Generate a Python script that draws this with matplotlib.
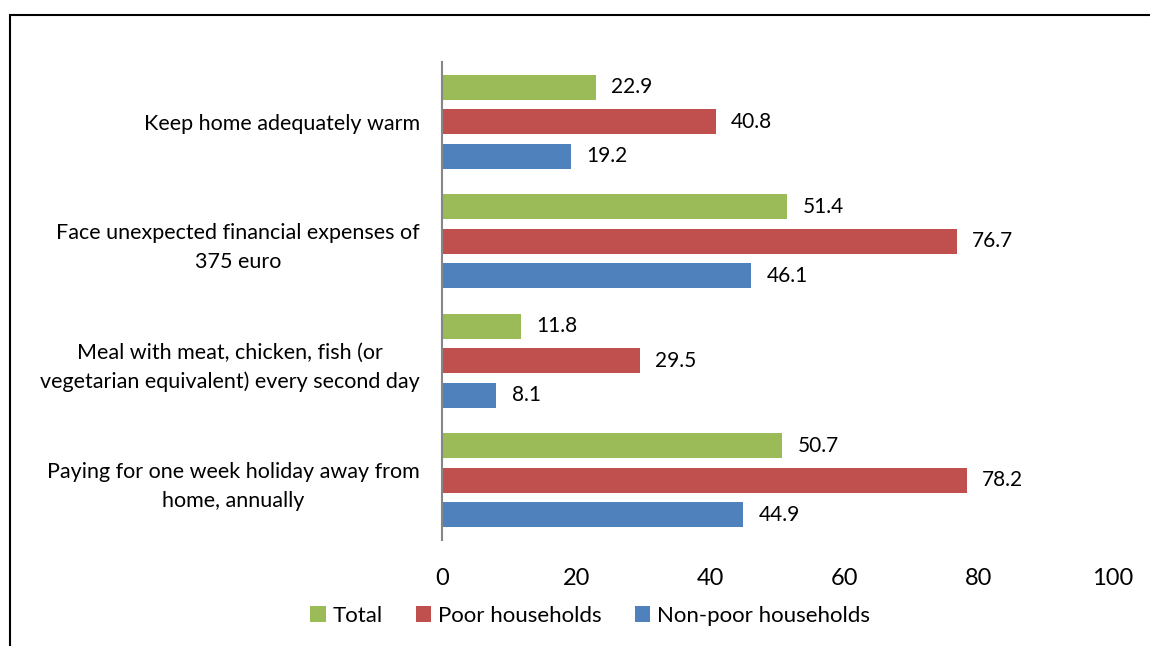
import matplotlib
matplotlib.use("Agg")
import matplotlib.pyplot as plt
from matplotlib.patches import Rectangle
import numpy as np

plt.rcParams['font.family'] = ['Lato', 'DejaVu Sans']

categories = ["Keep home adequately warm",
              "Face unexpected financial expenses of\n375 euro",
              "Meal with meat, chicken, fish (or\nvegetarian equivalent) every second day",
              "Paying for one week holiday away from\nhome, annually"]
series_names = ["Total", "Poor households", "Non-poor households"]
total = [22.9, 51.4, 11.8, 50.7]
poor = [40.8, 76.7, 29.5, 78.2]
nonpoor = [19.2, 46.1, 8.1, 44.9]
xticks = [0, 20, 40, 60, 80, 100]
colors = ["#9BBB59", "#C0504D", "#4F81BD"]

fig = plt.figure(figsize=(11.5, 6.46), dpi=100)
ax = fig.add_axes([442/1150, 1-540/646, (1113-442)/1150, (540-62)/646])

n = len(categories)
centers = np.arange(n)
slot = 0.289
bh = 0.21
for i, (vals, col, name) in enumerate(zip([total, poor, nonpoor], colors, series_names)):
    y = centers + (i - 1) * slot
    ax.barh(y, vals, height=bh, color=col, label=name)
    for yy, v in zip(y, vals):
        ax.text(v + 2.3, yy, f"{v:.1f}", va='center', ha='left', fontsize=15, color='black')

ax.set_ylim(n - 0.5, -0.5)
ax.set_xlim(0, 100)
ax.set_xticks(xticks)
ax.set_xticklabels([str(t) for t in xticks], fontsize=17)
ax.tick_params(axis='x', length=0, pad=20)
ax.set_yticks(centers)
ax.set_yticklabels(categories, fontsize=15.5, ha='right', multialignment='center',
                   linespacing=1.55)
ax.tick_params(axis='y', length=0, pad=16)
for s in ['top', 'right', 'bottom']:
    ax.spines[s].set_visible(False)
ax.spines['left'].set_color('#868686')
ax.spines['left'].set_linewidth(1.5)

leg = fig.legend(loc='center', bbox_to_anchor=(590/1150, 1-616/646), ncol=3, frameon=False,
                 fontsize=16, handlelength=0.7, handleheight=0.7, handletextpad=0.3,
                 columnspacing=1.5)

fig.patches.append(Rectangle((10/1150, -0.1), 1.2, 1-15/646 + 0.1, transform=fig.transFigure,
                             fill=False, edgecolor='black', linewidth=1.5))

fig.savefig("out.png", dpi=100)
